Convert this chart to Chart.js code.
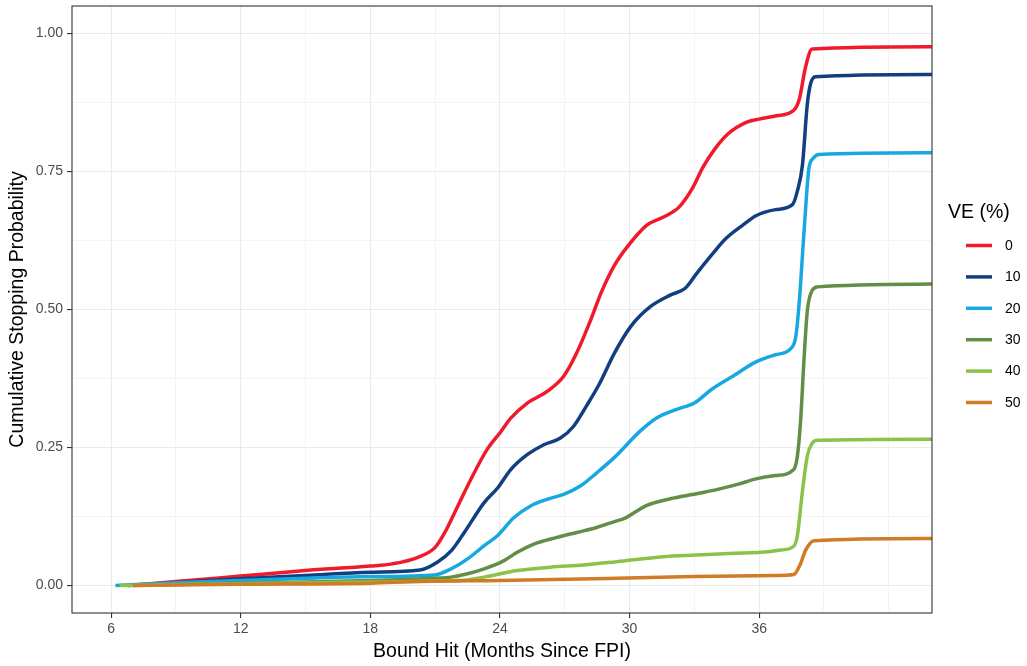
<!DOCTYPE html>
<html>
<head>
<meta charset="utf-8">
<title>Cumulative Stopping Probability</title>
<script src="https://cdn.jsdelivr.net/npm/chart.js@4.4.1/dist/chart.umd.min.js"></script>
<style>
  html, body { margin: 0; padding: 0; background: #fff; }
  #wrap { width: 1027px; height: 666px; }
</style>
</head>
<body>
<div id="wrap"><canvas id="stopChart" width="1027" height="666"></canvas></div>
<script>
// VE levels shown in the legend, and their line colours
const veLevels = ['0', '10', '20', '30', '40', '50'];
const veColors = ['#F01A2C', '#123F80', '#17A8E1', '#628E45', '#8BC24A', '#D17B25'];

// Cumulative stopping probability by bound-hit month, one array per VE level: [month, prob]
const ve0 = [[6.8,0],[9,0.007],[12,0.017],[15,0.027],[18,0.035],[19,0.039],[20.2,0.051],[21,0.069],[21.45,0.096],
  [22.05,0.144],[22.65,0.192],[23.4,0.246],[24.05,0.279],[24.5,0.303],[25.25,0.330],[26.2,0.352],[26.95,0.379],
  [27.55,0.421],[28.2,0.481],[28.7,0.532],[29.3,0.580],[29.9,0.614],[30.8,0.653],[31.6,0.668],[32.3,0.686],
  [32.9,0.719],[33.4,0.758],[33.95,0.791],[34.55,0.818],[35.4,0.839],[36.0,0.845],[36.8,0.851],[37.6,0.861],
  [37.85,0.88],[38.15,0.94],[38.45,0.972],[44,0.976]];
const ve10 = [[6.8,0],[12,0.012],[15,0.018],[18,0.024],[20.3,0.028],[21.1,0.042],[21.75,0.063],[22.35,0.096],
  [23.27,0.150],[23.9,0.177],[24.5,0.210],[25.26,0.237],[26.03,0.255],[26.8,0.267],[27.4,0.288],[28.0,0.325],
  [28.6,0.365],[29.3,0.421],[30.05,0.469],[30.96,0.505],[31.88,0.526],[32.56,0.538],[33.1,0.565],[33.8,0.599],
  [34.47,0.629],[35.24,0.653],[35.85,0.670],[36.76,0.681],[37.54,0.690],[37.77,0.715],[38.0,0.761],[38.23,0.873],
  [38.38,0.909],[38.6,0.922],[44,0.926]];
const ve20 = [[6.2,0],[9,0.005],[12,0.009],[15,0.013],[18,0.016],[20.97,0.019],[21.74,0.03],[22.5,0.048],
  [23.27,0.072],[23.88,0.090],[24.65,0.123],[25.42,0.144],[26.18,0.156],[26.95,0.165],[27.72,0.18],[28.48,0.204],
  [29.3,0.232],[30.5,0.28],[31.27,0.304],[32.18,0.319],[33.02,0.331],[33.79,0.355],[34.78,0.379],[35.85,0.405],
  [36.76,0.418],[37.46,0.429],[37.7,0.452],[37.85,0.511],[38.08,0.643],[38.3,0.755],[38.5,0.774],[38.77,0.781],
  [44,0.784]];
const ve30 = [[7.0,0],[12,0.004],[15,0.006],[19,0.010],[21,0.013],[21.74,0.015],[22.5,0.021],[23.27,0.030],
  [24.19,0.045],[24.8,0.06],[25.57,0.075],[26.64,0.087],[27.56,0.096],[28.48,0.105],[29.4,0.117],[29.74,0.121],
  [30.8,0.145],[31.88,0.157],[33.1,0.166],[34.17,0.175],[35.08,0.184],[35.85,0.193],[36.76,0.199],[37.6,0.21],
  [37.77,0.235],[37.92,0.30],[38.08,0.413],[38.23,0.498],[38.46,0.535],[38.7,0.541],[44,0.546]];
const ve40 = [[6.4,0],[12,0.003],[18,0.006],[21,0.008],[22.5,0.010],[23.27,0.015],[24.8,0.027],[26.34,0.033],
  [27.87,0.037],[29.4,0.043],[31.57,0.052],[33.1,0.055],[34.6,0.058],[36.46,0.061],[37.0,0.064],[37.6,0.071],
  [37.77,0.091],[38.0,0.17],[38.23,0.235],[38.46,0.258],[38.7,0.263],[44,0.265]];
const ve50 = [[7.0,0],[12,0.002],[18,0.004],[20.2,0.007],[24,0.009],[29.4,0.013],[33,0.016],[36.8,0.018],
  [37.6,0.0197],[37.9,0.038],[38.15,0.064],[38.54,0.081],[44,0.085]];
const seriesPoints = [ve0, ve10, ve20, ve30, ve40, ve50];

// Axis ticks: labelled breaks and the in-between grid lines
const xTickLabels = [6, 12, 18, 24, 30, 36];
const xGridValues = [6, 9, 12, 15, 18, 21, 24, 27, 30, 33, 36, 39, 42];
const yTickLabels = [0, 0.25, 0.5, 0.75, 1];
const yGridValues = [0, 0.125, 0.25, 0.375, 0.5, 0.625, 0.75, 0.875, 1];

const FONT = '"Liberation Sans", Arial, Helvetica, sans-serif';
const gridColor = '#EBEBEB';
const axisDark = '#333333';

function isMajor(list, v) {
  return list.some(m => Math.abs(m - v) < 1e-9);
}

// theme_bw style frame around the plotting panel
const panelBorder = {
  id: 'panelBorder',
  afterDatasetsDraw(chart) {
    const { ctx, chartArea: a } = chart;
    ctx.save();
    ctx.strokeStyle = axisDark;
    ctx.lineWidth = 1.1;
    ctx.strokeRect(a.left, a.top, a.right - a.left, a.bottom - a.top);
    ctx.restore();
  }
};

// Legend on the right: title plus one short line per VE level
const veLegend = {
  id: 'veLegend',
  afterDraw(chart) {
    const ctx = chart.ctx;
    ctx.save();
    ctx.fillStyle = '#000';
    ctx.textBaseline = 'middle';
    ctx.font = '19.5px ' + FONT;
    ctx.fillText('VE (%)', 948, 213);
    ctx.font = '14px ' + FONT;
    veLevels.forEach((lvl, i) => {
      const y = 245.5 + i * 31.4;
      ctx.strokeStyle = veColors[i];
      ctx.lineWidth = 3.5;
      ctx.beginPath();
      ctx.moveTo(966, y);
      ctx.lineTo(992, y);
      ctx.stroke();
      ctx.fillStyle = '#000';
      ctx.fillText(lvl, 1005, y + 0.5);
    });
    ctx.restore();
  }
};

const datasets = seriesPoints.map((pts, i) => ({
  label: veLevels[i],
  data: pts.map(p => ({ x: p[0], y: p[1] })),
  borderColor: veColors[i],
  borderWidth: 3.5,
  pointRadius: 0,
  cubicInterpolationMode: 'monotone',
  borderJoinStyle: 'round',
  order: veLevels.length - i   // higher VE drawn on top
}));

new Chart(document.getElementById('stopChart'), {
  type: 'line',
  data: { datasets },
  plugins: [panelBorder, veLegend],
  options: {
    responsive: false,
    animation: false,
    layout: { padding: { top: 6, right: 95, left: 0, bottom: 0 } },
    plugins: { legend: { display: false }, tooltip: { enabled: false } },
    scales: {
      x: {
        type: 'linear',
        min: 4.19,
        max: 44.0,
        afterBuildTicks: s => { s.ticks = xGridValues.map(v => ({ value: v })); },
        afterFit: s => { s.height = 53; s.paddingLeft = 0; s.paddingRight = 0; },
        border: { display: false },
        grid: {
          color: gridColor,
          lineWidth: c => (c.tick && isMajor(xTickLabels, c.tick.value)) ? 1.1 : 0.55,
          tickColor: c => (c.tick && isMajor(xTickLabels, c.tick.value)) ? axisDark : 'rgba(0,0,0,0)',
          tickLength: 5,
          tickWidth: 1.1
        },
        ticks: {
          autoSkip: false,
          maxRotation: 0,
          padding: 3,
          color: '#4D4D4D',
          font: { family: FONT, size: 14 },
          callback: v => isMajor(xTickLabels, v) ? String(v) : ''
        },
        title: {
          display: true,
          text: 'Bound Hit (Months Since FPI)',
          color: '#000',
          font: { family: FONT, size: 19.5 },
          padding: { top: 0, bottom: 3 }
        }
      },
      y: {
        type: 'linear',
        min: -0.05,
        max: 1.05,
        afterBuildTicks: s => { s.ticks = yGridValues.map(v => ({ value: v })); },
        // fixed width, and no extra room reserved for half-height end labels
        afterFit: s => { s.width = 72; s.paddingTop = 0; s.paddingBottom = 0; },
        border: { display: false },
        grid: {
          color: gridColor,
          lineWidth: c => (c.tick && isMajor(yTickLabels, c.tick.value)) ? 1.1 : 0.55,
          tickColor: c => (c.tick && isMajor(yTickLabels, c.tick.value)) ? axisDark : 'rgba(0,0,0,0)',
          tickLength: 5,
          tickWidth: 1.1
        },
        ticks: {
          autoSkip: false,
          padding: 4,
          color: '#4D4D4D',
          font: { family: FONT, size: 14 },
          callback: v => isMajor(yTickLabels, v) ? v.toFixed(2) : ''
        },
        title: {
          display: true,
          text: 'Cumulative Stopping Probability',
          color: '#000',
          font: { family: FONT, size: 19.5 },
          padding: { top: 6, bottom: 0 }
        }
      }
    }
  }
});
</script>
</body>
</html>
